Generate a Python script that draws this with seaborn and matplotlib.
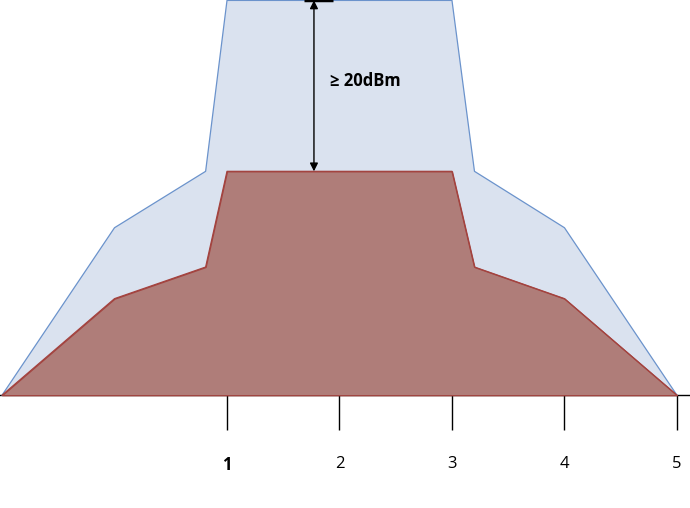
import matplotlib.pyplot as plt
import pandas as pd
import seaborn as sns

# Mask corner points (x in channel units, y in dB above baseline)
x_pts = [-1.0, 0.0, 0.81, 1.0, 3.0, 3.2, 4.0, 5.0]
outer_db = [0.0, 19.6, 26.2, 46.2, 46.2, 26.2, 19.6, 0.0]
inner_db = [0.0, 11.3, 15.0, 26.2, 26.2, 15.0, 11.3, 0.0]
tick_pos = [1, 2, 3, 4, 5]
tick_labels = ['1', '2', '3', '4', '5']
gap_label = '\u2265 20dBm'

df = pd.DataFrame({'x': x_pts, 'outer': outer_db, 'inner': inner_db})

sns.set_style('white')
plt.rcParams['font.family'] = ['Open Sans', 'DejaVu Sans']

fig = plt.figure(figsize=(6.9, 5.08), dpi=100)
ax = fig.add_axes([0, 0, 1, 1])

# Filled areas
ax.fill_between(df['x'], 0, df['outer'], facecolor='#DAE2EF', edgecolor='none', zorder=2)
sns.lineplot(data=df, x='x', y='outer', ax=ax, color='#6B93CC', linewidth=0.9,
             estimator=None, sort=False, zorder=3)
ax.fill_between(df['x'], 0, df['inner'], facecolor='#AF7D79', edgecolor='#A3433F',
                linewidth=0.9, zorder=4)
sns.lineplot(data=df, x='x', y='inner', ax=ax, color='#A3433F', linewidth=0.9,
             estimator=None, sort=False, zorder=5)

# Gap arrow
top = max(outer_db)
ax.annotate('', xy=(1.773, top), xytext=(1.773, max(inner_db)),
            arrowprops=dict(arrowstyle='<|-|>', color='black', lw=1,
                            mutation_scale=12, shrinkA=0, shrinkB=0), zorder=6)
ax.plot([1.684, 1.942], [top, top], color='black', linewidth=2.5,
        solid_capstyle='butt', zorder=6, clip_on=False)
ax.text(1.916, 36.8, gap_label, fontsize=12, fontweight='bold', va='center', ha='left',
        color='black')

# Axis styling
ax.set_xlim(-1.018, 5.116)
ax.set_ylim(-13.2, 46.25)
for s in ['top', 'left', 'right']:
    ax.spines[s].set_visible(False)
ax.spines['bottom'].set_position(('data', 0))
ax.spines['bottom'].set_color('black')
ax.spines['bottom'].set_linewidth(1)
ax.spines['bottom'].set_zorder(1)
ax.set_yticks([])
ax.set_xticks(tick_pos)
ax.set_xticklabels(tick_labels)
ax.tick_params(axis='x', bottom=True, direction='out', length=25, width=1, color='black',
               pad=19, labelsize=12, labelcolor='black')
ax.get_xticklabels()[0].set_fontweight('bold')
ax.set_xlabel('')
ax.set_ylabel('')
ax.set_facecolor('white')

fig.savefig('out.png', dpi=100)
